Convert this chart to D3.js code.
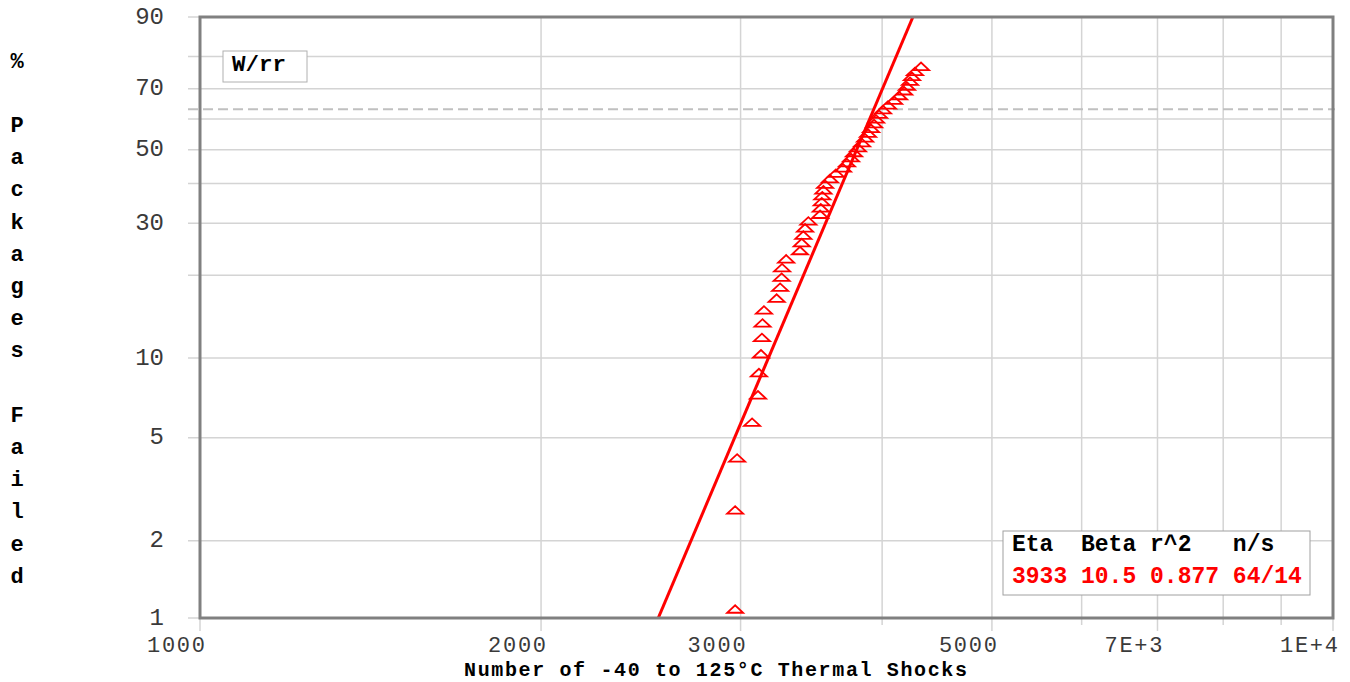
<!DOCTYPE html>
<html>
<head>
<meta charset="utf-8">
<script src="https://cdn.jsdelivr.net/npm/d3@7"></script>
<style>
  html, body { margin: 0; padding: 0; background: #fff; }
  svg { display: block; }
  text { font-family: "Liberation Mono", "DejaVu Sans Mono", monospace; }
</style>
</head>
<body>
<svg id="chart" width="1350" height="682"></svg>
<script>
// ---- data ----
const cycles = [2967, 2967, 2979, 3071, 3108, 3114, 3127, 3133, 3137, 3146,
                3228, 3251, 3261, 3264, 3291, 3385, 3397, 3408, 3420, 3443,
                3526, 3531, 3538, 3542, 3550, 3562, 3597, 3641, 3694, 3724,
                3755, 3778, 3808, 3840, 3864, 3887, 3911, 3935, 3951, 3975,
                4007, 4048, 4098, 4140, 4183, 4207, 4233, 4250, 4276, 4329];
const pctFailed = [1.087, 2.640, 4.193, 5.745, 7.298, 8.851, 10.404, 11.957, 13.509, 15.062,
                   16.615, 18.168, 19.720, 21.273, 22.826, 24.379, 25.932, 27.484, 29.037, 30.590,
                   32.143, 33.696, 35.248, 36.801, 38.354, 39.907, 41.460, 43.012, 44.565, 46.118,
                   47.671, 49.224, 50.776, 52.329, 53.882, 55.435, 56.988, 58.540, 60.093, 61.646,
                   63.199, 64.752, 66.304, 67.857, 69.410, 70.963, 72.516, 74.068, 75.621, 77.174];
const fitEta = 3933;
const fitBeta = 10.5;
const fitR2 = "0.877";
const fitNS = "64/14";
const xGrid = [1000, 2000, 3000, 4000, 5000, 6000, 7000, 8000, 9000, 10000];
const xTickLabels = [[1000, "1000"], [2000, "2000"], [3000, "3000"], [5000, "5000"], [7000, "7E+3"], [10000, "1E+4"]];
const yGrid = [1, 2, 5, 10, 20, 30, 40, 50, 60, 70, 80, 90];
const yTickLabels = [1, 2, 5, 10, 30, 50, 70, 90];
const xTitle = "Number of -40 to 125\u00B0C Thermal Shocks";
const yTitle = "% Packages Failed";

// ---- layout ----
const L = 200, R = 1333, T = 17, B = 618;
const svg = d3.select("#chart");
const weib = p => Math.log(-Math.log(1 - p / 100));
const x = d3.scaleLog().domain([1000, 10000]).range([L, R]);
const yT = d3.scaleLinear().domain([weib(1), weib(90)]).range([B, T]);
const y = p => yT(weib(p));

// grid
const labeledX = new Set(xTickLabels.map(d => d[0]));
svg.append("g").selectAll("line").data(xGrid).join("line")
  .attr("x1", d => x(d)).attr("x2", d => x(d))
  .attr("y1", T).attr("y2", d => labeledX.has(d) ? 631 : 625)
  .attr("stroke", "#d4d4d4").attr("stroke-width", 1.5);
svg.append("g").selectAll("line").data(yGrid).join("line")
  .attr("x1", 188).attr("x2", R)
  .attr("y1", d => y(d)).attr("y2", d => y(d))
  .attr("stroke", "#d4d4d4").attr("stroke-width", 1.5);

// 63.2% dashed reference
svg.append("line")
  .attr("x1", 188).attr("x2", R + 2)
  .attr("y1", y(63.212)).attr("y2", y(63.212))
  .attr("stroke", "#c0c0c0").attr("stroke-width", 2)
  .attr("stroke-dasharray", "10,5");

// tick labels
svg.append("g").selectAll("text").data(xTickLabels).join("text")
  .attr("x", d => x(d[0]) + 5).attr("y", 652)
  .attr("text-anchor", "end")
  .attr("font-size", 22).attr("fill", "#3a3a3a")
  .attr("textLength", 58).attr("lengthAdjust", "spacing")
  .text(d => d[1]);
svg.append("g").selectAll("text").data(yTickLabels).join("text")
  .attr("x", 164).attr("y", d => y(d))
  .attr("text-anchor", "end").attr("dominant-baseline", "central")
  .attr("font-size", 24).attr("fill", "#3a3a3a")
  .text(d => d);

// clip
svg.append("clipPath").attr("id", "plotclip")
  .append("rect").attr("x", L).attr("y", T).attr("width", R - L).attr("height", B - T);

// fit line
const fitPts = [1, 90].map(p => [fitEta * Math.pow(-Math.log(1 - p / 100), 1 / fitBeta), p]);
svg.append("path")
  .attr("clip-path", "url(#plotclip)")
  .attr("d", d3.line().x(d => x(d[0])).y(d => y(d[1]))(fitPts))
  .attr("fill", "none").attr("stroke", "#ff0000").attr("stroke-width", 3);

// points
svg.append("g").selectAll("path").data(cycles).join("path")
  .attr("transform", (d, i) => `translate(${x(d)},${y(pctFailed[i])})`)
  .attr("d", "M-8,4L8,4L0,-3.5Z")
  .attr("fill", "none").attr("stroke", "#ff0000").attr("stroke-width", 1.8);

// frame
svg.append("rect").attr("x", L).attr("y", T).attr("width", R - L).attr("height", B - T)
  .attr("fill", "none").attr("stroke", "#808080").attr("stroke-width", 3);

// W/rr box
svg.append("rect").attr("x", 223).attr("y", 51).attr("width", 84).attr("height", 31)
  .attr("fill", "#fff").attr("stroke", "#b0b0b0").attr("stroke-width", 1);
svg.append("text").attr("x", 232).attr("y", 71)
  .attr("font-size", 22.5).attr("font-weight", "bold").attr("fill", "#000").text("W/rr");

// legend box
svg.append("rect").attr("x", 1003).attr("y", 531).attr("width", 307).attr("height", 64)
  .attr("fill", "#fff").attr("stroke", "#a0a0a0").attr("stroke-width", 1);
svg.append("text").attr("x", 1012).attr("y", 551)
  .attr("font-size", 23).attr("font-weight", "bold").attr("fill", "#000")
  .attr("xml:space", "preserve").style("white-space", "pre")
  .text("Eta  Beta r^2   n/s");
svg.append("text").attr("x", 1012).attr("y", 583)
  .attr("font-size", 23).attr("font-weight", "bold").attr("fill", "#ff0000")
  .attr("xml:space", "preserve").style("white-space", "pre")
  .text(`${fitEta} ${fitBeta} ${fitR2} ${fitNS}`);

// axis titles
svg.append("text").attr("x", 464).attr("y", 675.5)
  .attr("font-size", 20).attr("font-weight", "bold").attr("fill", "#000")
  .attr("textLength", 503).attr("lengthAdjust", "spacing")
  .text(xTitle);
svg.append("g").selectAll("text").data(Array.from(yTitle)).join("text")
  .attr("x", 17).attr("y", (d, i) => 62 + i * 32.2)
  .attr("text-anchor", "middle").attr("dominant-baseline", "central")
  .attr("font-size", 22).attr("font-weight", "bold").attr("fill", "#000")
  .text(d => d);
</script>
</body>
</html>
